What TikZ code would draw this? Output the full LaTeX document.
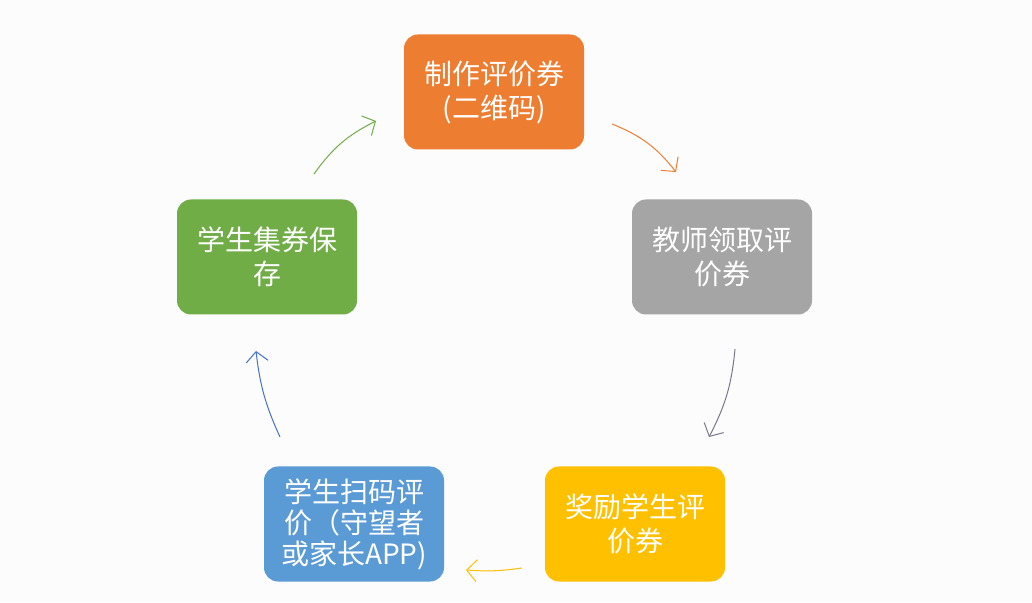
\documentclass[tikz,border=0pt]{standalone}
\usepackage{fontspec}
\setmainfont{Noto Sans CJK SC}
\usepackage{tikz}
\usetikzlibrary{arrows.meta}

\definecolor{boxOrange}{HTML}{ED7D31}
\definecolor{boxGray}{HTML}{A5A5A5}
\definecolor{boxYellow}{HTML}{FFC000}
\definecolor{boxBlue}{HTML}{5B9BD5}
\definecolor{boxGreen}{HTML}{70AD47}
\definecolor{arrGray}{HTML}{7A7888}
\definecolor{arrBlue}{HTML}{4472C4}
\definecolor{bgTone}{HTML}{FCFCFC}

\begin{document}
\begin{tikzpicture}[x=1pt,y=1pt,
  stepbox/.style={rectangle, rounded corners=14pt, minimum width=180pt, minimum height=115pt,
    inner sep=2pt, text=white, align=center, font=\fontsize{28}{34}\selectfont},
  flowarrow/.style={line width=1pt, -{Straight Barb[length=10pt,width=22pt]}}]
\fill[bgTone] (0,0) rectangle (1032,602);
\useasboundingbox (0,0) rectangle (1032,602);
% five steps round the cycle
\node[stepbox, fill=boxOrange] (zhizuo) at (494,510) {制作评价券\\(二维码)};
\node[stepbox, fill=boxGray] (lingqu) at (722,345) {教师领取评\\价券};
\node[stepbox, fill=boxYellow] (jiangli) at (635,78) {奖励学生评\\价券};
\node[stepbox, fill=boxBlue, font=\fontsize{28}{31}\selectfont] (saoma) at (354,78) {学生扫码评\\价（守望者\\或家长APP)};
\node[stepbox, fill=boxGreen] (jiquan) at (267,345) {学生集券保\\存};
% free ends of the short arcs between the boxes
\coordinate (o1) at (612,478); \coordinate (o2) at (676,430);
\coordinate (g1) at (735,253); \coordinate (g2) at (709,165);
\coordinate (y1) at (522,34);  \coordinate (y2) at (466,32);
\coordinate (b1) at (280,165); \coordinate (b2) at (256,251);
\coordinate (e1) at (314,428); \coordinate (e2) at (376,481);
\foreach \a/\b/\col/\ang in {o1/o2/boxOrange/15, g1/g2/arrGray/11, y1/y2/boxYellow/6, b1/b2/arrBlue/9, e1/e2/boxGreen/14} {
  \draw[flowarrow, \col] (\a) to[bend left=\ang] (\b);
}
\end{tikzpicture}
\end{document}
